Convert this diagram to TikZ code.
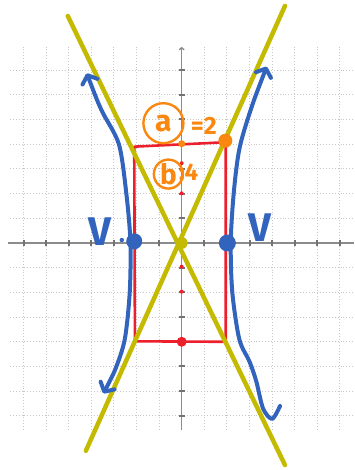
\documentclass[tikz,border=0pt]{standalone}
\usepackage{fontspec}
\setsansfont{Fira Sans}
\usetikzlibrary{arrows.meta,positioning,calc}

\definecolor{penblue}{RGB}{50,100,190}
\definecolor{penred}{RGB}{236,32,45}
\definecolor{penorange}{RGB}{250,135,15}
\definecolor{penyellow}{RGB}{196,186,0}
\definecolor{gridgray}{RGB}{200,200,200}

\tikzset{
  gridline/.style={gridgray, dotted, line width=0.9pt},
  axisline/.style={black!45, line width=1.4pt},
  axistick/.style={black!55, line width=2pt},
  asymptote/.style={penyellow, line width=4.5pt, line cap=round},
  branch/.style={penblue, line width=4pt, line cap=round, line join=round},
  boxline/.style={penred, line width=2.6pt, line join=round},
  handtext/.style={font=\sffamily\bfseries, inner sep=0pt},
  circled/.style={circle, draw=penorange, line width=2.4pt, inner sep=0pt},
  penarrow/.tip={Straight Barb[length=7pt, width=16pt, round]}
}

\begin{document}
\begin{tikzpicture}[x=1pt, y=1pt]
\useasboundingbox (0,0) rectangle (354,470);

\begin{scope}[x=22.6pt, y=24.7pt, shift={(181.7pt,227pt)}]

% Grid
\foreach \j in {-7,...,7}
  \draw[gridline] (-7.6,\j) -- (7.62,\j);
\foreach \k in {-7,...,7}
  \draw[gridline] (\k,-7.57) -- (\k,7.94);

% Axes with ticks
\coordinate (O) at (0,0);
\draw[axisline] (-7.68,0) -- (7.62,0);
\draw[axisline, -{Straight Barb[length=2pt, width=5pt]}] (0,-7.57) -- (0,7.94);
\foreach \k in {-7,...,-1,1,2,...,7}
  \draw[axistick] (\k,-0.13) -- (\k,0.13);
\foreach \j in {-7,...,-1,1,2,...,7}
  \draw[axistick] (-0.14,\j) -- (0.14,\j);

% Box (a = 2, b = 4)
\coordinate (TL) at (-2.1,3.9);
\coordinate (TR) at (1.95,4.08);
\coordinate (BR) at (1.95,-4.0);
\coordinate (BL) at (-2.07,-3.98);
\draw[boxline] (TL) -- (TR) -- (BR) -- (BL) -- cycle;

% Asymptotes
\coordinate (A1) at (-5.04,9.19);
\coordinate (A2) at (4.57,-8.99);
\coordinate (B1) at (4.57,9.60);
\coordinate (B2) at (-4.24,-8.41);
\draw[asymptote] (A1) -- (A2);
\draw[asymptote] (B1) -- (B2);

% Branches
\draw[branch, penarrow-penarrow] plot[smooth, tension=0.5] coordinates {
  (-4.2,6.87) (-3.55,5.38) (-2.78,4.0) (-2.45,2.0) (-2.27,0.05)
  (-2.3,-2.0) (-2.52,-3.9) (-2.95,-5.14) (-3.47,-6.09)};
\draw[branch, penarrow-] plot[smooth, tension=0.5] coordinates {
  (3.76,7.14) (3.05,5.38) (2.55,3.8) (2.3,2.0) (2.17,0)
  (2.24,-2.0) (2.55,-3.9) (3.0,-4.8) (3.3,-5.6) (3.6,-6.7)
  (4.0,-7.12) (4.35,-6.6)};

% Dots
\coordinate (VL) at (-2.1,0.07);
\coordinate (VR) at (2.02,0);
\coordinate (C) at (1.93,4.14);
\fill[penred] (0,3.23) circle (2pt) (0,2.01) circle (2pt)
  (0,-0.96) circle (2pt) (0,-1.97) circle (2pt);
\fill[penred] (0,-4.0) circle (5pt);
\fill[penorange] (0,4.02) circle (3.5pt);
\fill[penyellow] (O) circle (6pt);
\fill[penblue] (VL) circle (8pt);
\fill[penblue] (VR) circle (8.5pt);
\fill[penblue] (-2.65,0.12) circle (2.2pt);
\fill[penorange] (C) circle (7pt);

% Labels
\node[circled, minimum size=40pt, handtext, penorange, font=\sffamily\bfseries\fontsize{30}{30}\selectfont]
  (acirc) at (-0.81,4.85) {a};
\node[handtext, penorange, font=\sffamily\bfseries\fontsize{25}{25}\selectfont]
  (aval) at (0.98,4.73) {=2};
\node[circled, minimum size=29pt, handtext, penorange, font=\sffamily\bfseries\fontsize{28}{28}\selectfont]
  (bcirc) at (-0.59,2.79) {b};
\node[handtext, penorange, font=\sffamily\bfseries\fontsize{24}{24}\selectfont, anchor=west]
  (bval) at (-0.13,2.85) {:4};
\node[handtext, penblue, font=\sffamily\bfseries\fontsize{40}{40}\selectfont]
  (vleft) at (-3.62,0.46) {V};
\node[handtext, penblue, font=\sffamily\bfseries\fontsize{40}{40}\selectfont]
  (vright) at (3.46,0.61) {V};

\end{scope}
\end{tikzpicture}
\end{document}
